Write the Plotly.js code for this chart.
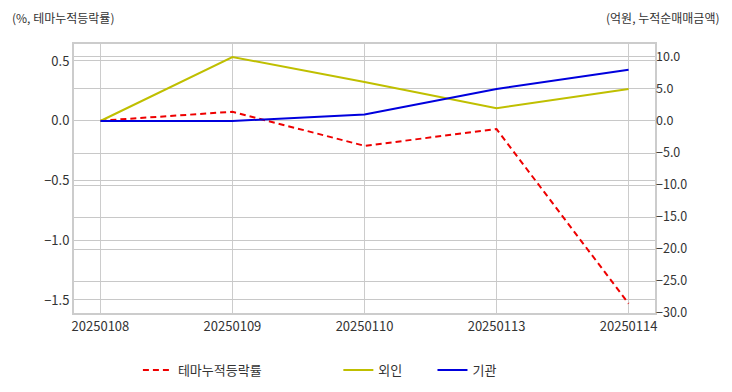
<!DOCTYPE html>
<html><head><meta charset="utf-8">
<script src="https://cdn.plot.ly/plotly-3.0.1.min.js"></script>
<style>body{margin:0;background:#fff}#c{width:732px;height:392px}</style>
</head><body><div id="c"></div>
<script>
const dates = ["20250108","20250109","20250110","20250113","20250114"];
const themeRate = [0.0, 0.075, -0.21, -0.07, -1.53];
const foreign = [0.0, 10.0, 6.1, 2.0, 5.0];
const institution = [0.0, 0.0, 1.0, 5.0, 8.0];
const F = "'Noto Sans CJK KR', 'Noto Sans', sans-serif";
const traces = [
 {x: dates, y: themeRate, name: "테마누적등락률", type: "scatter", mode: "lines",
  line: {color: "#ee0000", width: 2, dash: "6px,4px"}, yaxis: "y", legend: "legend"},
 {x: dates, y: foreign, name: "외인", type: "scatter", mode: "lines",
  line: {color: "#bfbf00", width: 2}, yaxis: "y2", legend: "legend2"},
 {x: dates, y: institution, name: "기관", type: "scatter", mode: "lines",
  line: {color: "#0000dd", width: 2}, yaxis: "y2", legend: "legend3"}
];
function leg(x) {
  return {orientation: "h", x: x, xanchor: "left", xref: "paper", yref: "container",
    y: 0.056, yanchor: "middle", itemwidth: 30, bgcolor: "rgba(0,0,0,0)",
    font: {family: F, size: 13, color: "#333"}};
}
const layout = {
 width: 732, height: 392,
 margin: {l: 74, r: 77, t: 44, b: 79},
 paper_bgcolor: "#fff", plot_bgcolor: "#fff",
 font: {family: F, size: 12, color: "#333"},
 showlegend: true,
 legend: leg(0.11), legend2: leg(0.455), legend3: leg(0.617),
 xaxis: {type: "category", range: [-0.2, 4.2], showgrid: true, gridcolor: "#cccccc", gridwidth: 1,
   linecolor: "#cccccc", linewidth: 2, mirror: true, showline: true, ticks: "",
   tickfont: {size: 13, color: "#333"}, zeroline: false},
 yaxis: {range: [-1.609, 0.642], tickmode: "linear", tick0: 0, dtick: 0.5, tickformat: ".1f",
   showgrid: true, gridcolor: "#c8c8c8", gridwidth: 1,
   zeroline: false, showline: true, linecolor: "#cccccc", linewidth: 2, mirror: true, ticks: "",
   tickfont: {size: 13, color: "#333"}},
 yaxis2: {overlaying: "y", side: "right", range: [-30, 12.03], tickmode: "linear", tick0: 0, dtick: 5,
   tickformat: ".1f", showgrid: true, gridcolor: "#c8c8c8", gridwidth: 1, zeroline: false, ticks: "",
   tickfont: {size: 12.5, color: "#333"}},
 annotations: [
  {text: "(%, 테마누적등락률)", xref: "paper", yref: "paper", x: -0.11, y: 1.1, xanchor: "left",
   yanchor: "middle", showarrow: false, font: {family: F, size: 12, color: "#333"}},
  {text: "(억원, 누적순매매금액)", xref: "paper", yref: "paper", x: 1.115, y: 1.1, xanchor: "right",
   yanchor: "middle", showarrow: false, font: {family: F, size: 12, color: "#333"}}
 ]
};
Plotly.newPlot("c", traces, layout, {displayModeBar: false, staticPlot: true});
</script></body></html>
